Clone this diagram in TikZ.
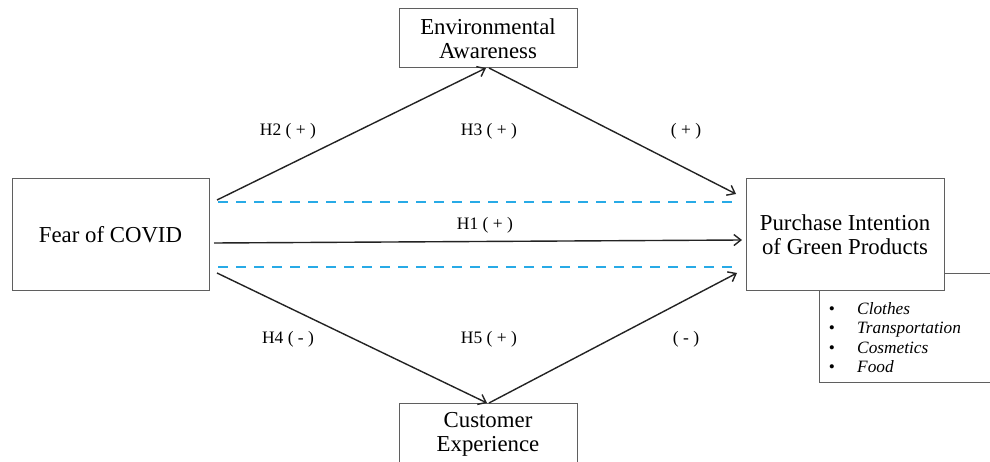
\documentclass[tikz,border=0pt]{standalone}
\usepackage{fontspec}
\setmainfont{Liberation Serif}
\usetikzlibrary{arrows.meta}
\definecolor{dashblue}{RGB}{40,170,230}
\definecolor{boxgray}{RGB}{95,95,95}
\definecolor{arrowdark}{RGB}{35,35,35}
\begin{document}
\begin{tikzpicture}[x=1pt,y=-1pt,
  box/.style={draw=boxgray, line width=1pt, fill=white, inner sep=0pt, align=center,
    font=\fontsize{22.8}{24}\selectfont},
  lbl/.style={font=\fontsize{17.5}{20}\selectfont, inner sep=0pt},
  item/.style={font=\fontsize{17.3}{20}\selectfont\itshape, inner sep=0pt, anchor=base west},
  bul/.style={font=\fontsize{17.3}{20}\selectfont, inner sep=0pt, anchor=base},
  conn/.style={draw=arrowdark, line width=1.4pt, -{Straight Barb[length=7pt,width=11pt]}},
  dashline/.style={draw=dashblue, line width=2pt, dash pattern=on 10pt off 8pt}]
\useasboundingbox (0,0) rectangle (990,462);
\clip (0,0) rectangle (990,462);
\fill[white] (0,0) rectangle (990,462);

% list box behind the purchase box
\node[draw=boxgray, line width=1pt, minimum width=190pt, minimum height=109pt,
  inner sep=0pt, anchor=north west] (listbox) at (819,273) {};

\node[box, minimum width=197pt, minimum height=111pt] (fear) at (110.5,234.5) {Fear of COVID};
\node[box, minimum width=178pt, minimum height=59pt] (env) at (488,38.5) {Environmental\\Awareness};
\node[box, minimum width=198pt, minimum height=111pt] (pur) at (845,234.5) {Purchase Intention\\of Green Products};
\node[box, minimum width=178pt, minimum height=63pt] (cust) at (488,434.5) {Customer\\Experience};

% connector end points
\coordinate (a1s) at (217,200);
\coordinate (envin) at (486,68);
\coordinate (envout) at (489,68);
\coordinate (pin1) at (736,194);
\coordinate (h1s) at (214,243);
\coordinate (h1e) at (742,240);
\coordinate (b1s) at (217,273);
\coordinate (custin) at (487,403);
\coordinate (custout) at (489,403);
\coordinate (pin2) at (737,273);
\coordinate (d1s) at (218,202);
\coordinate (d1e) at (735,202);
\coordinate (d2s) at (218,267);
\coordinate (d2e) at (735,267);

\draw[dashline] (d1s) -- (d1e);
\draw[dashline] (d2s) -- (d2e);

\draw[conn] (a1s) -- (envin);
\draw[conn] (envout) -- (pin1);
\draw[conn] (h1s) -- (h1e);
\draw[conn] (b1s) -- (custin);
\draw[conn] (custout) -- (pin2);

% labels
\node[lbl] (lh2) at (288,131) {H2 ( + )};
\node[lbl] (lh3) at (489,131) {H3 ( + )};
\node[lbl] (lp1) at (686,131) {( + )};
\node[lbl] (lh1) at (485,225) {H1 ( + )};
\node[lbl] (lh4) at (288,339) {H4 ( - )};
\node[lbl] (lh5) at (489,339) {H5 ( + )};
\node[lbl] (lm1) at (686,339) {( - )};

% list
\node[bul] (b1) at (832,314) {\textbullet};
\node[bul] (b2) at (832,333.5) {\textbullet};
\node[bul] (b3) at (832,353) {\textbullet};
\node[bul] (b4) at (832,372.5) {\textbullet};
\node[item] (i1) at (857,314) {Clothes};
\node[item] (i2) at (857,333.5) {Transportation};
\node[item] (i3) at (857,353) {Cosmetics};
\node[item] (i4) at (857,372.5) {Food};
\end{tikzpicture}
\end{document}
